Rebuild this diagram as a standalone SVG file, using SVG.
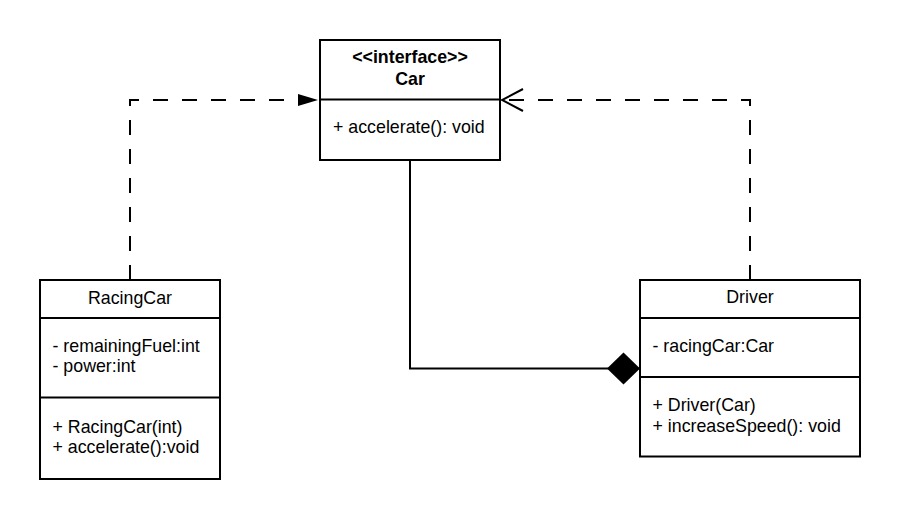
<svg xmlns="http://www.w3.org/2000/svg" width="900" height="519" viewBox="0 0 900 519">
<style>
.box{fill:#fff;stroke:#000;stroke-width:2}
.div{stroke:#000;stroke-width:2}
text{font-family:"Liberation Sans",Arial,sans-serif;font-size:17.8px;fill:#000}
.c{text-anchor:middle}
.b{font-weight:bold}
.dash{fill:none;stroke:#000;stroke-width:2;stroke-dasharray:15 14}
.solid{fill:none;stroke:#000;stroke-width:2}
</style>
<defs>
<marker id="tri" markerUnits="userSpaceOnUse" markerWidth="22" markerHeight="14" refX="20" refY="6" orient="auto">
<path d="M0,0 L20,6 L0,12 Z" fill="#000"/>
</marker>
<marker id="open" markerUnits="userSpaceOnUse" markerWidth="24" markerHeight="26" refX="22" refY="12" orient="auto">
<path d="M1,1 L22,12 L1,23" fill="none" stroke="#000" stroke-width="2"/>
</marker>
<marker id="diamond" markerUnits="userSpaceOnUse" markerWidth="36" markerHeight="36" refX="34" refY="17" orient="auto">
<path d="M1,17 L17.5,1 L34,17 L17.5,33 Z" fill="#000"/>
</marker>
</defs>
<rect width="900" height="519" fill="#fff"/>
<g id="connectors">
<path class="dash" d="M130,280 L130,100 L318,100" marker-end="url(#tri)"/>
<path class="dash" d="M750,280 L750,100 L502,100" marker-end="url(#open)"/>
<path class="solid" d="M410,160 L410,368.5 L640,368.5" marker-end="url(#diamond)"/>
</g>
<g id="car">
<rect class="box" x="320" y="40" width="180" height="120"/>
<line class="div" x1="320" y1="99.5" x2="500" y2="99.5"/>
<text class="c b" x="410" y="62.5">&lt;&lt;interface&gt;&gt;</text>
<text class="c b" x="410" y="84.5">Car</text>
<text x="333" y="133">+ accelerate(): void</text>
</g>
<g id="racingcar">
<rect class="box" x="40" y="280" width="180" height="199"/>
<line class="div" x1="40" y1="318" x2="220" y2="318"/>
<line class="div" x1="40" y1="397.5" x2="220" y2="397.5"/>
<text class="c" x="130" y="303.5">RacingCar</text>
<text x="52.5" y="352">- remainingFuel:int</text>
<text x="52.5" y="372">- power:int</text>
<text x="52.5" y="433">+ RacingCar(int)</text>
<text x="52.5" y="453">+ accelerate():void</text>
</g>
<g id="driver">
<rect class="box" x="640" y="280" width="220" height="176.5"/>
<line class="div" x1="640" y1="318" x2="860" y2="318"/>
<line class="div" x1="640" y1="377" x2="860" y2="377"/>
<text class="c" x="750" y="303">Driver</text>
<text x="652.5" y="351.5">- racingCar:Car</text>
<text x="652.5" y="411">+ Driver(Car)</text>
<text x="652.5" y="431.5">+ increaseSpeed(): void</text>
</g>
</svg>
